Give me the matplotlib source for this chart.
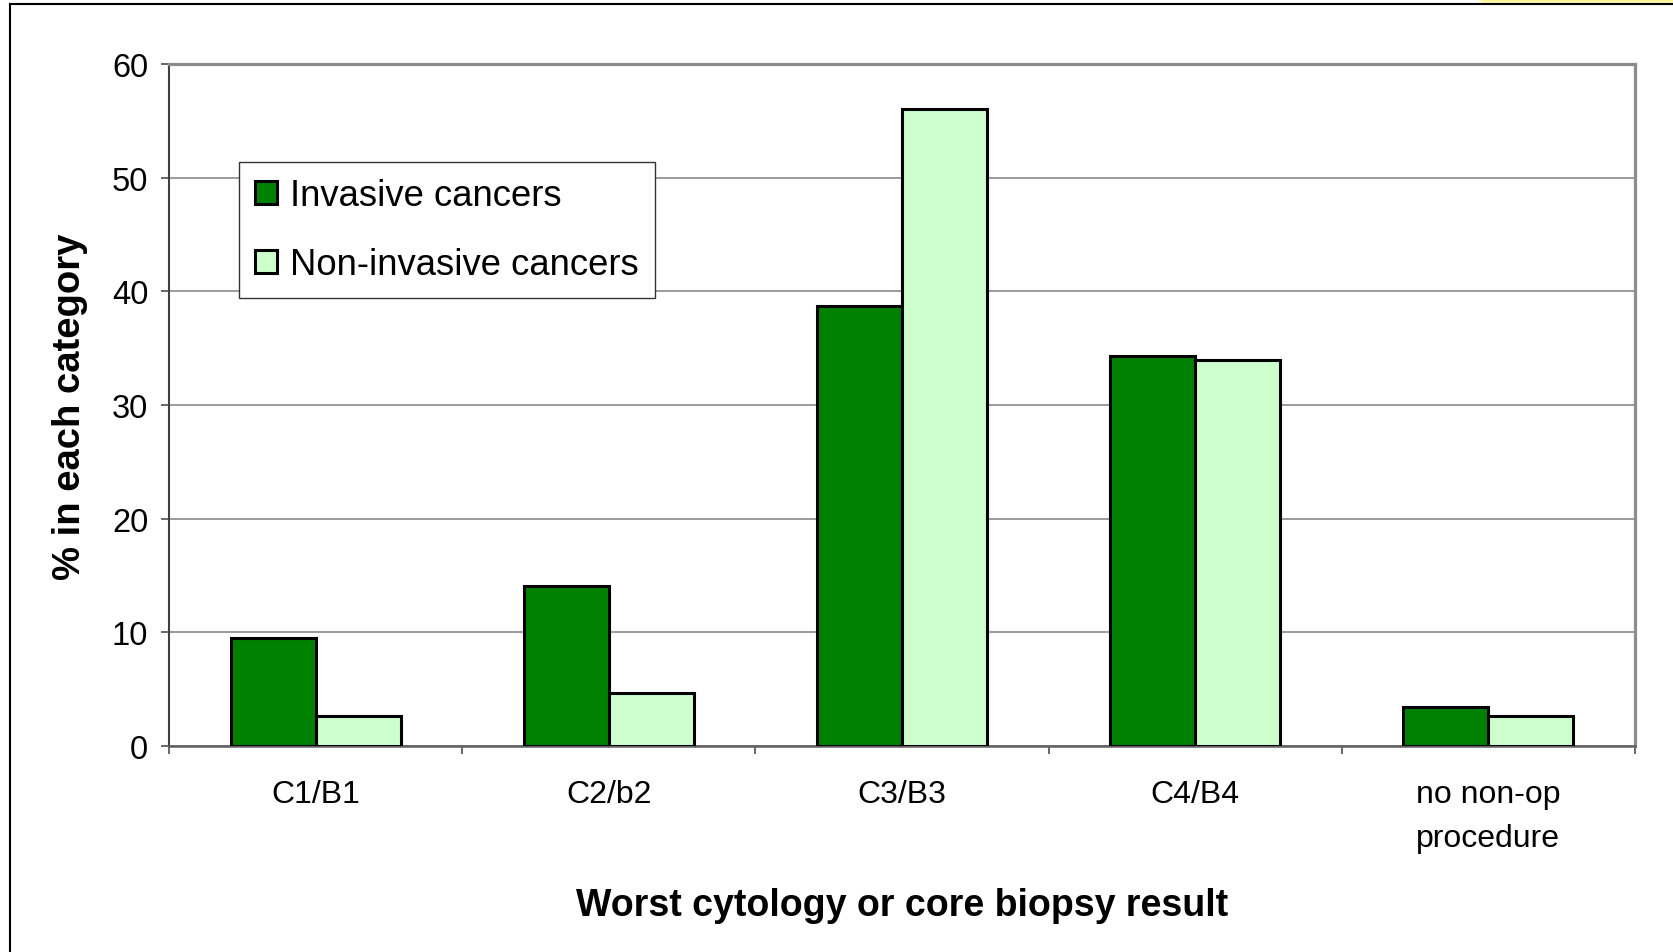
import numpy as np
import matplotlib
matplotlib.use("Agg")
import matplotlib.pyplot as plt
from matplotlib.lines import Line2D
from matplotlib.patches import Polygon

plt.rcParams['font.family'] = ['Liberation Sans', 'DejaVu Sans']

# data
categories = ["C1/B1", "C2/b2", "C3/B3", "C4/B4", "no non-op\nprocedure"]
invasive = [9.5, 14.1, 38.7, 34.3, 3.4]
non_invasive = [2.6, 4.7, 56.0, 34.0, 2.6]
yticks = [0, 10, 20, 30, 40, 50, 60]

W, H = 1674, 953
fig = plt.figure(figsize=(W / 100, H / 100), dpi=100)
ax = fig.add_axes([169 / W, 1 - 747 / H, (1635 - 169) / W, (747 - 65) / H])

x = np.arange(len(categories))
bw = 0.29
ax.bar(x - bw / 2, invasive, bw, color="#008000", edgecolor="black",
       linewidth=2.2, label="Invasive cancers", zorder=3)
ax.bar(x + bw / 2, non_invasive, bw, color="#CCFFCC", edgecolor="black",
       linewidth=2.2, label="Non-invasive cancers", zorder=3)

ax.set_xlim(-0.5, len(categories) - 0.5)
ax.set_ylim(0, 60)
ax.set_yticks(yticks)
ax.yaxis.grid(True, color="#808080", linewidth=1.1, zorder=0)

# boundaries get tick marks, centres get labels
ax.set_xticks(np.arange(-0.5, len(categories)), labels=[""] * (len(categories) + 1))
ax.set_xticks(x, labels=categories, minor=True)
ax.tick_params(axis="x", which="major", length=6, width=1.1, color="#404040")
ax.tick_params(axis="x", which="minor", length=0, pad=24, labelsize=23)
ax.tick_params(axis="y", length=6, width=1.1, color="#404040", pad=9, labelsize=23.5)
for lab in ax.get_xticklabels(minor=True):
    lab.set_linespacing(1.6)

for s in ["top", "right"]:
    ax.spines[s].set_color("#8c8c8c")
    ax.spines[s].set_linewidth(2.3)
ax.spines["left"].set_color("#404040")
ax.spines["left"].set_linewidth(1.5)
ax.spines["bottom"].set_color("#606060")
ax.spines["bottom"].set_linewidth(1.8)

leg = ax.legend(loc="upper left", bbox_to_anchor=((239 - 169) / 1466, (747 - 163) / 682),
                borderaxespad=0, fontsize=26.3, fancybox=False, framealpha=1,
                edgecolor="#333333", handlelength=0.6, handleheight=0.6,
                handletextpad=0.35, labelspacing=0.92, borderpad=0.45)
leg.get_frame().set_linewidth(1.0)

fig.text(70 / W, 1 - 407 / H, "% in each category", rotation=90, ha="center",
         va="center", fontsize=27.5, fontweight="bold")
fig.text(902 / W, 1 - 916 / H, "Worst cytology or core biopsy result", ha="center",
         va="baseline", fontsize=27, fontweight="bold")

# outer frame (top and left edges) and the yellow corner
fig.add_artist(Line2D([10 / W, 10 / W], [0, 1 - 5 / H], color="black", linewidth=1.5,
                      transform=fig.transFigure))
fig.add_artist(Line2D([10 / W, 1], [1 - 5 / H, 1 - 5 / H], color="black", linewidth=1.5,
                      transform=fig.transFigure))
fig.add_artist(Polygon([[1477 / W, 1], [1, 1], [1, 1 - 4 / H], [1483 / W, 1 - 4 / H]],
                       closed=True, facecolor="#FCF8A0", edgecolor="none",
                       transform=fig.transFigure))

fig.savefig("out.png", dpi=100)
